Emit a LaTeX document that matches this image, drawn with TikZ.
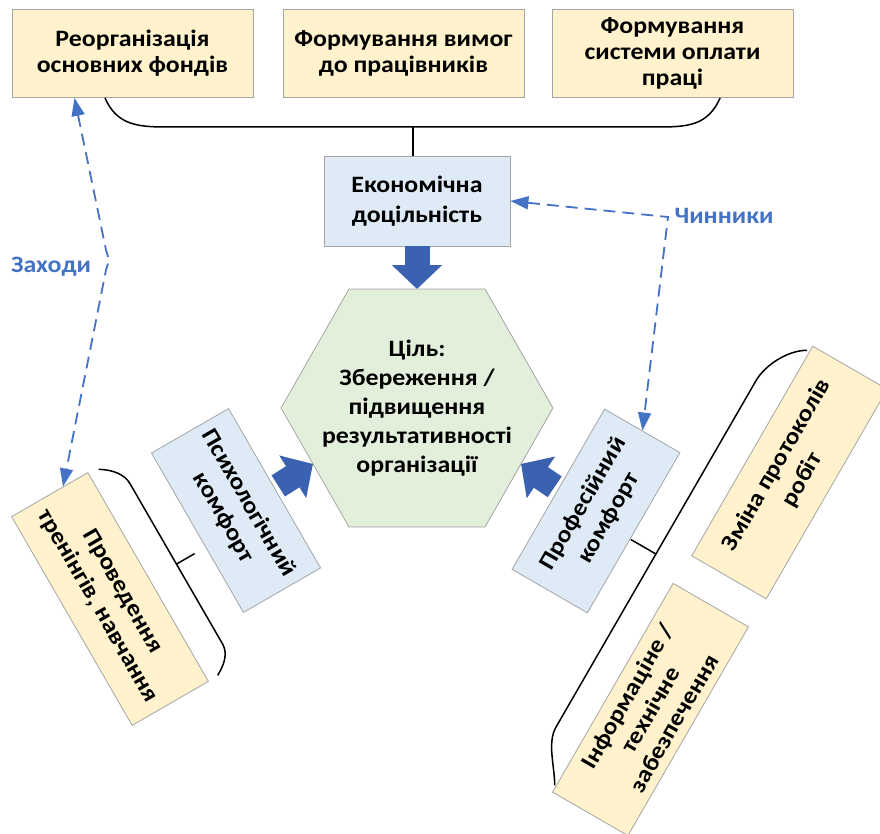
\documentclass[tikz,border=0pt]{standalone}
\usepackage{fontspec}
\setmainfont{Carlito}[FakeStretch=1.1]
\usetikzlibrary{arrows.meta,calc}
\definecolor{boxyellow}{HTML}{FFF2CC}
\definecolor{boxblue}{HTML}{DEEBF7}
\definecolor{hexgreen}{HTML}{E2EFDA}
\definecolor{edgegray}{HTML}{A5A5A5}
\definecolor{arrowblue}{HTML}{3B62B0}
\definecolor{dashblue}{HTML}{4472C4}
\begin{document}
\begin{tikzpicture}[x=1pt,y=-1pt,
  base/.style={draw=edgegray, line width=0.8pt, align=center, inner sep=0pt,
    font=\bfseries\fontsize{23.5}{26}\selectfont},
  ybox/.style={base, fill=boxyellow, minimum width=241pt, minimum height=88pt},
  bbox/.style={base, fill=boxblue},
  rotfont/.style={font=\bfseries\fontsize{23.5}{29}\selectfont},
  hextext/.style={align=center, font=\bfseries\fontsize{23.5}{29}\selectfont},
  blockarrow/.style={draw=arrowblue, line width=25pt, -{Triangle[length=24pt,width=49pt]}},
  dasharrow/.style={draw=dashblue, line width=1.8pt, dash pattern=on 12pt off 7pt,
    {Triangle[length=18pt,width=13pt]}-{Triangle[length=18pt,width=13pt]}},
  bracket/.style={draw=black, line width=1.5pt},
  lbl/.style={text=dashblue, font=\bfseries\fontsize{23.5}{26}\selectfont, inner sep=0pt}
  ]
\useasboundingbox (0,0) rectangle (880,834);
\fill[white] (0,0) rectangle (880,834);

% hexagon
\coordinate (hT1) at (349,289);
\coordinate (hT2) at (485,289);
\coordinate (hR) at (553,408);
\coordinate (hB2) at (485,527);
\coordinate (hB1) at (349,527);
\coordinate (hL) at (281,408);
\draw[draw=edgegray, line width=0.8pt, fill=hexgreen] (hT1) -- (hT2) -- (hR) -- (hB2) -- (hB1) -- (hL) -- cycle;
\node[hextext] (hex) at (417,408) {Ціль:\\Збереження /\\підвищення\\результативності\\організації};
\coordinate (hexN) at (417,289);
\coordinate (hexLL) at ($(hL)!0.47!(hB1)$);
\coordinate (hexLR) at ($(hR)!0.47!(hB2)$);

% boxes
\node[ybox] (b1) at (132.5,53.5) {Реорганізація\\основних фондів};
\node[ybox] (b2) at (403.5,53.5) {Формування вимог\\до працівників};
\node[ybox] (b3) at (672.5,53.5) {Формування\\системи оплати\\праці};
\node[bbox, minimum width=186pt, minimum height=90pt, font=\bfseries\fontsize{23.5}{30}\selectfont] (econ) at (417,201) {Економічна\\доцільність};
\node[bbox, rotfont, minimum width=184pt, minimum height=89pt, rotate=-60] (psy) at (236,510.5) {Психологічний\\комфорт};
\node[ybox, rotfont, rotate=-60] (trn) at (110,599) {Проведення\\тренінгів, навчання};
\node[bbox, rotfont, minimum width=185pt, minimum height=87pt, rotate=60] (prof) at (596,511) {Професійний\\комфорт};
\node[ybox, rotfont, minimum width=242pt, minimum height=86pt, rotate=60] (chg) at (789.5,472.5) {Зміна протоколів\\робіт};
\node[ybox, font=\bfseries\fontsize{23.5}{27}\selectfont, minimum height=87pt, rotate=60] (inf) at (650.5,709.5) {Інформаціне /\\технічне\\забезпечення};

% block arrows
\draw[blockarrow] (econ.south) -- (hexN);
\draw[blockarrow, shorten <=4pt] (psy.north) -- (hexLL);
\draw[blockarrow, shorten <=4pt] (prof.north) -- (hexLR);

% top bracket
\coordinate (tb1) at ($(b1.south west)!0.386!(b1.south east)$);
\coordinate (tb3) at ($(b3.south west)!0.697!(b3.south east)$);
\coordinate (tbL) at (167,127);
\coordinate (tbR) at (659,127);
\coordinate (stemtop) at (413,127);
\draw[bracket] (tb1) .. controls +(12,27) and +(-30,0) .. (tbL) -- (tbR) .. controls +(30,0) and +(-12,27) .. (tb3);
\draw[bracket] (stemtop) -- (stemtop |- econ.north);

% left bracket
\begin{scope}[shift={(trn.center)}, rotate=-60, y=1pt]
\draw[bracket] (-118,55) .. controls (-110,68) and (-100,75) .. (-90,75) -- (95,75) .. controls (105,75) and (113,68) .. (120,55);
\coordinate (lstemA) at (3,75);
\coordinate (lstemB) at (3,96);
\draw[bracket] (lstemA) -- (lstemB);
\end{scope}

% right bracket
\begin{scope}[shift={($(chg.center)!0.5!(inf.center)$)}, rotate=60, y=1pt]
\draw[bracket] (252,45) .. controls (242,62) and (218,74) .. (200,74) -- (-200,74) .. controls (-218,74) and (-235,55) .. (-251,46);
\coordinate (rstemA) at (0,74);
\coordinate (rstemB) at (0,103);
\draw[bracket] (rstemA) -- (rstemB);
\end{scope}

% dashed arrows
\coordinate (zt) at ($(b1.south west)!0.26!(b1.south east)$);
\coordinate (zb) at ($(trn.west)!0.35!(trn.north west)$);
\coordinate (zk1) at (106,250);
\coordinate (zk2) at (109,260);
\coordinate (zk3) at (106,270);
\draw[dasharrow] (zt) -- (zk1) -- (zk2) -- (zk3) -- (zb);
\coordinate (ck) at (668,217);
\draw[dasharrow] (econ.east) -- (ck) -- (prof.east);

\node[lbl] (zlab) at (51,267) {Заходи};
\node[lbl] (clab) at (724,216) {Чинники};
\end{tikzpicture}
\end{document}
